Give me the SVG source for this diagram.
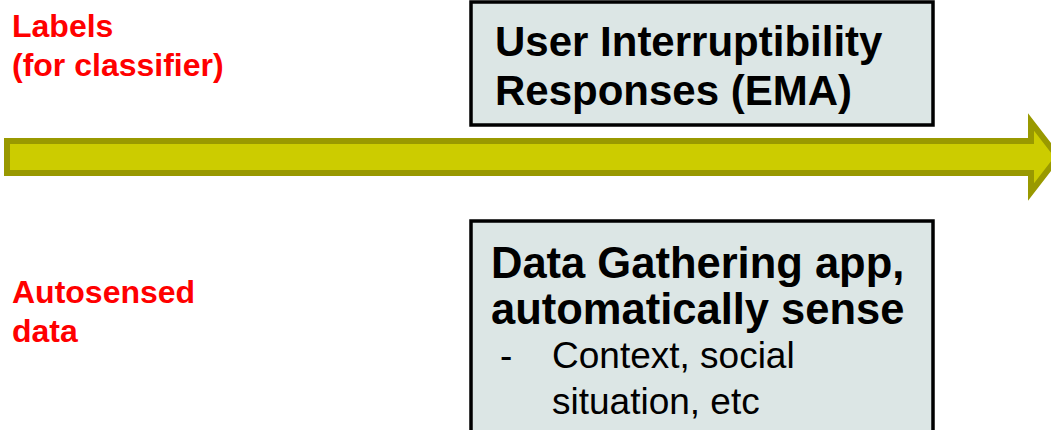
<svg xmlns="http://www.w3.org/2000/svg" width="1051" height="430" viewBox="0 0 1051 430">
<style>
.box{fill:#DCE6E5;stroke:#000;stroke-width:3.5}
.h{font-family:"Liberation Sans",Arial,sans-serif;font-weight:bold;font-size:42px;fill:#000}
.h2{font-family:"Liberation Sans",Arial,sans-serif;font-weight:bold;font-size:43.5px;fill:#000}
.b{font-family:"Liberation Sans",Arial,sans-serif;font-size:37px;fill:#000}
.r{font-family:"Liberation Sans",Arial,sans-serif;font-weight:bold;font-size:32px;fill:#FF0000}
.arrow{fill:#CCCC00;stroke:#999900;stroke-width:6}
</style>
<rect width="1051" height="430" fill="#fff"/>
<g id="connectors">
<path class="arrow" d="M7,141 L1031,141 L1031,122 L1058,157 L1031,192 L1031,173 L7,173 Z"/>
</g>
<g id="label-top">
<text class="r" x="12" y="37">Labels</text>
<text class="r" x="12" y="76">(for classifier)</text>
</g>
<g id="label-bottom">
<text class="r" x="12" y="303">Autosensed</text>
<text class="r" x="12" y="342">data</text>
</g>
<g id="ema">
<rect class="box" x="471" y="2" width="462" height="123"/>
<text class="h" x="495" y="56">User Interruptibility</text>
<text class="h" x="495" y="105">Responses (EMA)</text>
</g>
<g id="app">
<rect class="box" x="471" y="221" width="462" height="220"/>
<text class="h2" x="491" y="278">Data Gathering app,</text>
<text class="h2" x="491" y="324">automatically sense</text>
<text class="b" x="500" y="368">-</text>
<text class="b" x="552" y="368">Context, social</text>
<text class="b" x="552" y="414">situation, etc</text>
</g>
</svg>
